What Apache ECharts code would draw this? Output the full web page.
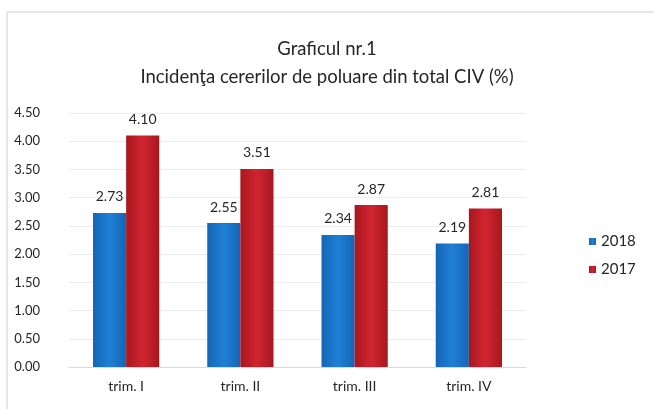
<!DOCTYPE html>
<html style="height: 100%">
   <head>
       <meta charset="utf-8">
   </head>
   <body style="height: 100%; margin: 0; background: #fff">
       <div id="container" style="width: 654px; height: 409px"></div>
       <script type="text/javascript" src="https://cdn.jsdelivr.net/npm/echarts@6/dist/echarts.min.js"></script>
       <script type="text/javascript">
var categories = ['trim. I', 'trim. II', 'trim. III', 'trim. IV'];
var values2018 = [2.73, 2.55, 2.34, 2.19];
var values2017 = [4.10, 3.51, 2.87, 2.81];

var myChart = echarts.init(document.getElementById('container'));

function barColor(top, bottom) {
    // slight shading like the excel bevel
    return new echarts.graphic.LinearGradient(0, 0, 1, 0, [
        { offset: 0, color: top },
        { offset: 0.5, color: bottom },
        { offset: 1, color: top }
    ]);
}

var labelStyle = {
    show: true,
    position: 'top',
    distance: 9,
    color: '#262626',
    fontSize: 14,
    fontFamily: 'Lato',
    formatter: function (p) { return p.value.toFixed(2); }
};

var option = {
    backgroundColor: '#fff',
    textStyle: { fontFamily: 'Lato' },
    title: {
        text: 'Graficul nr.1\nIncidenţa cererilor de poluare din total CIV (%)',
        left: 'center',
        top: 30,
        textStyle: {
            fontSize: 18.5,
            fontWeight: 'normal',
            color: '#262626',
            lineHeight: 28,
            fontFamily: 'Lato'
        }
    },
    legend: {
        orient: 'vertical',
        left: 584,
        top: 229,
        itemWidth: 7,
        itemHeight: 7,
        itemGap: 13,
        icon: 'rect',
        textStyle: { fontSize: 15, color: '#262626', fontFamily: 'Lato' },
        data: ['2018', '2017']
    },
    grid: {
        left: 69,
        right: 128,
        top: 113,
        bottom: 42
    },
    xAxis: {
        type: 'category',
        data: categories,
        axisTick: { show: false },
        axisLine: { lineStyle: { color: '#d9d9d9' } },
        axisLabel: { color: '#262626', fontSize: 14, margin: 12 }
    },
    yAxis: {
        type: 'value',
        min: 0,
        max: 4.5,
        interval: 0.5,
        axisLine: { show: false },
        axisTick: { show: false },
        splitLine: { lineStyle: { color: '#ececec' } },
        axisLabel: {
            color: '#262626',
            fontSize: 13,
            margin: 29,
            formatter: function (v) { return v.toFixed(2); }
        }
    },
    series: [
        {
            name: '2018',
            type: 'bar',
            data: values2018,
            barGap: '0%',
            barCategoryGap: '42%',
            itemStyle: { color: barColor('#1565b5', '#1f80d6') },
            label: labelStyle
        },
        {
            name: '2017',
            type: 'bar',
            data: values2017,
            itemStyle: { color: barColor('#a8171f', '#d02531') },
            label: labelStyle
        }
    ],
    graphic: [{
        type: 'rect',
        shape: { x: 7, y: 12, width: 660, height: 420 },
        style: { fill: 'none', stroke: '#d0d0d0', lineWidth: 1 },
        silent: true
    }]
};

myChart.setOption(option, true);
       </script>
   </body>
</html>
